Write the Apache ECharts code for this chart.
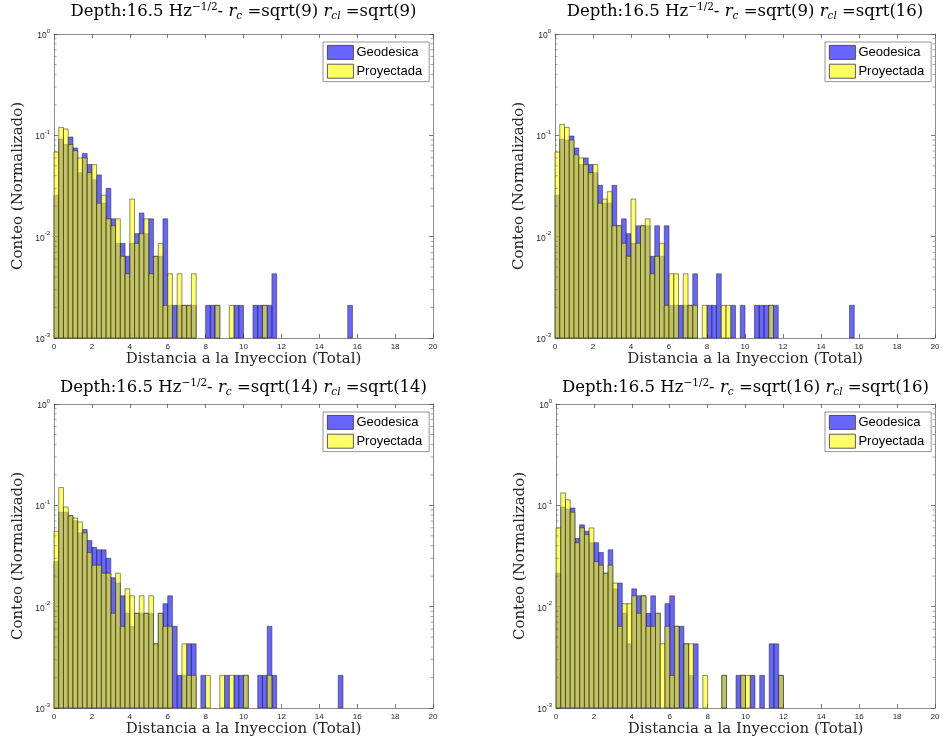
<!DOCTYPE html>
<html><head><meta charset="utf-8">
<script src="https://cdn.jsdelivr.net/npm/echarts@6/dist/echarts.min.js"></script>
<style>html,body{margin:0;padding:0;background:#fff}#c{width:943px;height:745px}</style>
</head><body><div id="c"></div>
<script>
// ---- data (normalized counts, bins of width 0.25 starting at 0) ----
const binWidth = 0.25;
const seriesNames = ['Geodesica', 'Proyectada'];
const minorTickValues = [0.002,0.003,0.004,0.005,0.006,0.007,0.008,0.009,
  0.02,0.03,0.04,0.05,0.06,0.07,0.08,0.09,0.2,0.3,0.4,0.5,0.6,0.7,0.8,0.9];
const panelRc  = ['sqrt(9)', 'sqrt(9)', 'sqrt(14)', 'sqrt(16)'];
const panelRcl = ['sqrt(9)', 'sqrt(16)', 'sqrt(14)', 'sqrt(16)'];

const tlGeo = [0.0257,0.0920,0.0813,0.0963,0.0749,0.0428,0.0663,0.0514,0.0364,0.0407,
  0.0214,0.0300,0.0150,0.0086,0.0086,0.0064,0.0086,0.0107,0.0171,0.0107,
  0.0150,0.0064,0.0064,0.0150,0.0021,0.0021,0.0021,0.0021,0.0021,0.0021,
  0,0,0.0021,0.0021,0.0021,0,0,0,0.0021,0.0021,
  0,0,0.0021,0.0021,0.0021,0.0021,0.0043,0,0,0,
  0,0,0,0,0,0,0,0,0,0,
  0,0,0.0021];
const tlProy = [0.0685,0.1198,0.1156,0.0813,0.0706,0.0599,0.0599,0.0428,0.0514,0.0214,
  0.0257,0.0150,0.0128,0.0150,0.0064,0.0043,0.0235,0.0086,0.0107,0.0150,
  0.0043,0.0064,0.0086,0.0021,0.0043,0,0.0043,0.0021,0.0021,0.0043,
  0,0,0,0,0.0021,0,0,0.0021,0,0,
  0,0,0,0,0.0021];
const trGeo = [0.0257,0.0920,0.0899,0.0984,0.0749,0.0514,0.0599,0.0514,0.0428,0.0321,
  0.0214,0.0214,0.0321,0.0128,0.0150,0.0107,0.0086,0.0128,0.0128,0.0128,
  0.0064,0.0128,0.0064,0.0128,0.0021,0.0021,0.0021,0.0021,0.0021,0.0043,
  0,0,0.0021,0.0021,0.0043,0,0,0.0021,0,0.0021,
  0,0,0.0021,0.0021,0.0021,0.0021,0.0021,0,0,0,
  0,0,0,0,0,0,0,0,0,0,
  0,0,0.0021];
const trProy = [0.0685,0.1284,0.1198,0.0899,0.0642,0.0599,0.0514,0.0428,0.0514,0.0214,
  0.0235,0.0278,0.0128,0.0128,0.0086,0.0064,0.0235,0.0086,0.0128,0.0150,
  0.0043,0.0064,0.0086,0.0021,0.0043,0.0043,0,0.0043,0.0021,0.0021,
  0,0.0021,0,0,0,0.0021,0.0021,0,0,0,
  0,0,0,0,0,0.0021];
const blGeo = [0.0278,0.0856,0.0856,0.0792,0.0706,0.0535,0.0578,0.0449,0.0385,0.0364,
  0.0364,0.0300,0.0193,0.0171,0.0128,0.0086,0.0064,0.0086,0.0086,0.0086,
  0.0086,0.0043,0.0086,0.0107,0.0128,0.0064,0.0021,0.0021,0.0043,0.0043,
  0,0.0021,0,0,0,0,0.0021,0,0.0021,0.0021,
  0.0021,0,0,0.0021,0.0021,0.0064,0.0021,0,0,0,
  0,0,0,0,0,0,0,0,0,0,
  0.0021];
const blProy = [0.0556,0.1498,0.0963,0.0792,0.0749,0.0685,0.0535,0.0342,0.0257,0.0257,
  0.0214,0.0214,0.0086,0.0214,0.0064,0.0150,0.0128,0.0086,0.0128,0.0086,
  0.0128,0.0043,0.0086,0.0064,0.0064,0,0,0.0043,0.0021,0.0021,
  0,0,0.0021,0,0,0.0021,0,0.0021,0,0,
  0.0021,0,0,0,0,0.0021];
const brGeo = [0.0214,0.0963,0.0920,0.0942,0.0471,0.0642,0.0556,0.0428,0.0428,0.0342,
  0.0214,0.0364,0.0150,0.0171,0.0086,0.0043,0.0150,0.0128,0.0128,0.0086,
  0.0128,0.0086,0,0.0107,0.0128,0.0064,0.0064,0.0043,0.0021,0.0043,
  0,0,0,0,0,0.0021,0,0,0.0021,0.0021,
  0,0.0021,0,0.0021,0,0.0043,0.0043,0.0021];
const brProy = [0.0599,0.1327,0.1134,0.0856,0.0428,0.0599,0.0514,0.0599,0.0278,0.0257,
  0.0214,0.0257,0.0171,0.0064,0.0107,0.0107,0.0128,0.0086,0.0128,0.0064,
  0.0064,0.0086,0.0043,0.0064,0.0021,0.0064,0,0.0043,0.0043,0,
  0,0.0021,0,0,0,0.0021,0,0,0,0.0021,
  0.0021,0,0,0,0,0,0,0.0021];

const geoData  = [tlGeo, trGeo, blGeo, brGeo];
const proyData = [tlProy, trProy, blProy, brProy];

// ---- layout ----
const grids = [
  {left: 54,  top: 34,  width: 379, height: 304},
  {left: 555, top: 34,  width: 380, height: 304},
  {left: 54,  top: 404, width: 379, height: 304},
  {left: 556, top: 404, width: 379, height: 304}
];
const titleY = [12, 12, 388, 388];
const BLUE = 'rgba(0,0,255,0.6)';
const YELLOW = 'rgba(255,255,0,0.6)';
const EDGE = 'rgba(38,38,38,0.75)';
const AXC = '#8c8c8c';
const TXT = '#262626';
const SERIF = '"DejaVu Serif","Liberation Serif",serif';
const SANS = '"Liberation Sans",Arial,sans-serif';

function toBins(arr) {
  const out = [];
  arr.forEach((v, i) => { if (v > 0) out.push([i * binWidth, (i + 1) * binWidth, v]); });
  return out;
}
function barRenderer(fill) {
  return function (params, api) {
    const x0 = api.value(0), x1 = api.value(1), v = api.value(2);
    const p0 = api.coord([x0, v]);
    const p1 = api.coord([x1, 0.001]);
    return {type: 'rect',
      shape: {x: p0[0], y: p0[1], width: p1[0] - p0[0], height: p1[1] - p0[1]},
      style: {fill: fill, stroke: EDGE, lineWidth: 0.7}};
  };
}
function minorRenderer(params, api) {
  const v = api.value(0);
  const l = api.coord([0, v]);
  const r = api.coord([20, v]);
  return {type: 'group', children: [
    {type: 'line', shape: {x1: l[0], y1: l[1], x2: l[0] + 2.5, y2: l[1]}, style: {stroke: '#666', lineWidth: 0.6}},
    {type: 'line', shape: {x1: r[0], y1: r[1], x2: r[0] - 2.5, y2: r[1]}, style: {stroke: '#666', lineWidth: 0.6}}
  ]};
}

const option = {
  animation: false,
  backgroundColor: '#fff',
  grid: [], xAxis: [], yAxis: [], series: [], legend: [], graphic: []
};

grids.forEach((g, i) => {
  option.grid.push(Object.assign({containLabel: false, outerBoundsMode: 'none'}, g));
  const xBase = {gridIndex: i, type: 'value', min: 0, max: 20, interval: 2,
    splitLine: {show: false},
    axisLine: {onZero: false, lineStyle: {color: AXC, width: 1}},
    axisTick: {inside: true, length: 4, lineStyle: {color: '#555', width: 0.8}}};
  option.xAxis.push(Object.assign({}, xBase, {position: 'bottom',
    axisLabel: {fontSize: 8, color: TXT, fontFamily: SANS, margin: 5},
    name: 'Distancia a la Inyeccion (Total)', nameLocation: 'middle', nameGap: 14,
    nameTextStyle: {fontFamily: SERIF, fontSize: 15, color: TXT}}));
  option.xAxis.push(Object.assign({}, xBase, {position: 'top', axisLabel: {show: false}}));
  const yBase = {gridIndex: i, type: 'log', logBase: 10, min: 0.001, max: 1,
    splitLine: {show: false}, minorTick: {show: false},
    axisLine: {onZero: false, lineStyle: {color: AXC, width: 1}},
    axisTick: {inside: true, length: 4, lineStyle: {color: '#555', width: 0.8}}};
  option.yAxis.push(Object.assign({}, yBase, {position: 'left',
    axisLabel: {margin: 4, formatter: function (v) {
        return '{b|10}{s|' + Math.round(Math.log10(v)) + '}';
      },
      rich: {b: {fontSize: 8.5, color: TXT, fontFamily: SANS, verticalAlign: 'bottom', lineHeight: 12},
             s: {fontSize: 6, color: TXT, fontFamily: SANS, verticalAlign: 'top', lineHeight: 12}}},
    name: 'Conteo (Normalizado)', nameLocation: 'middle', nameGap: 28, nameRotate: 90,
    nameTextStyle: {fontFamily: SERIF, fontSize: 15, color: TXT}}));
  option.yAxis.push(Object.assign({}, yBase, {position: 'right', axisLabel: {show: false}}));

  option.series.push({type: 'custom', name: seriesNames[0], xAxisIndex: 2 * i, yAxisIndex: 2 * i,
    renderItem: barRenderer(BLUE), itemStyle: {color: BLUE}, encode: {x: [0, 1], y: 2},
    data: toBins(geoData[i]), z: 2});
  option.series.push({type: 'custom', name: seriesNames[1], xAxisIndex: 2 * i, yAxisIndex: 2 * i,
    renderItem: barRenderer(YELLOW), itemStyle: {color: YELLOW}, encode: {x: [0, 1], y: 2},
    data: toBins(proyData[i]), z: 3});
  option.series.push({type: 'custom', xAxisIndex: 2 * i, yAxisIndex: 2 * i, silent: true,
    renderItem: minorRenderer, encode: {y: 0}, data: minorTickValues.map(v => [v]), z: 4});

  const right = g.left + g.width;
  option.legend.push({orient: 'vertical', left: right - 110, top: g.top + 8,
    icon: 'rect', itemWidth: 26, itemHeight: 14, itemGap: 4,
    padding: [3, 7, 3, 4], borderColor: '#7a7a7a', borderWidth: 0.8, backgroundColor: '#fff',
    itemStyle: {borderColor: '#333', borderWidth: 0.8},
    textStyle: {fontSize: 13, fontFamily: SANS, color: '#000', padding: [0, 0, 0, -2]},
    data: [{name: seriesNames[0], itemStyle: {color: BLUE}}, {name: seriesNames[1], itemStyle: {color: YELLOW}}]});

  option.graphic.push({type: 'text', x: g.left + g.width / 2, y: titleY[i], z: 10,
    style: {text: 'Depth:16.5 Hz{sup|\u22121/2}- {it|r}{sub|c} =' + panelRc[i] + ' {it|r}{sub|cl} =' + panelRcl[i],
      fontFamily: SERIF, fontSize: 16.5, fill: '#000', align: 'center', verticalAlign: 'middle',
      rich: {sup: {fontSize: 10.5, fontFamily: SERIF, fill: '#000', verticalAlign: 'top', lineHeight: 20},
             it: {fontSize: 16.5, fontFamily: SERIF, fontStyle: 'italic', fill: '#000'},
             sub: {fontSize: 10.5, fontFamily: SERIF, fontStyle: 'italic', fill: '#000', verticalAlign: 'bottom', lineHeight: 20}}}});
});

const chart = echarts.init(document.getElementById('c'), null, {renderer: 'canvas'});
chart.setOption(option);
</script></body></html>
